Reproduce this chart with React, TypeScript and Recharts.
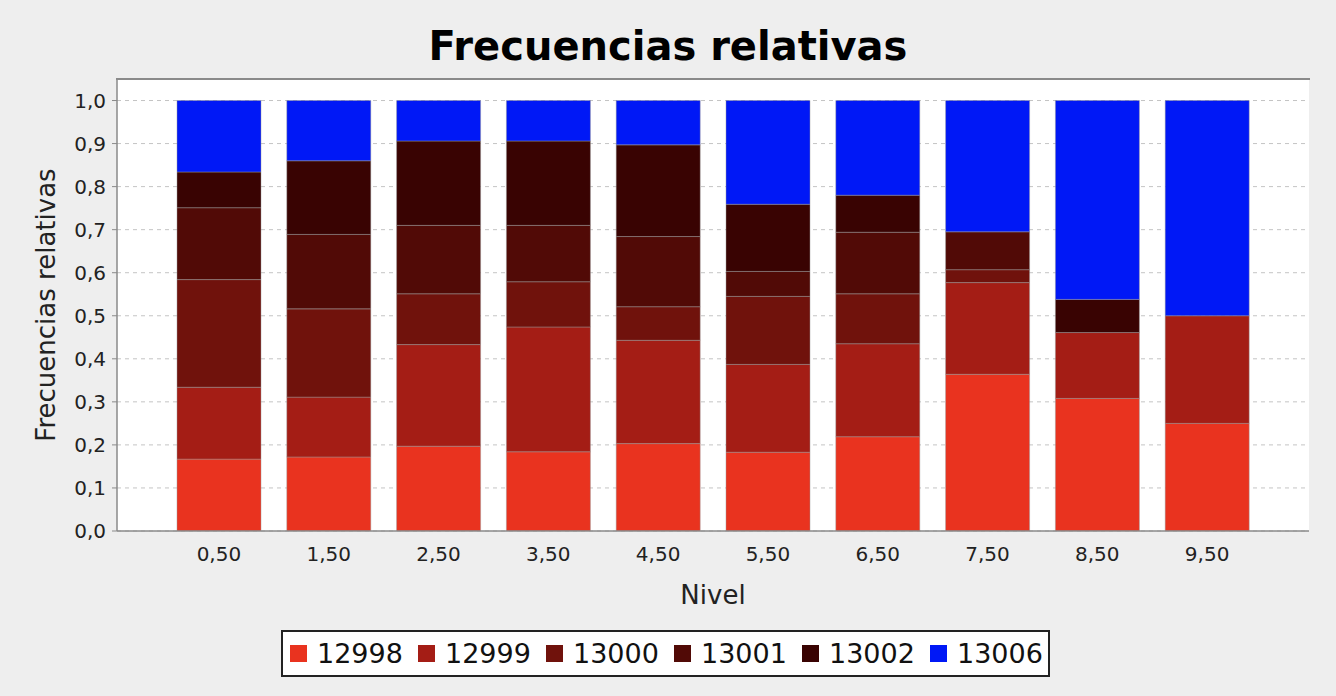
import React from 'react';
import { BarChart, Bar, XAxis, YAxis, CartesianGrid, Legend, Label } from 'recharts';

const niveles = ['0,50', '1,50', '2,50', '3,50', '4,50', '5,50', '6,50', '7,50', '8,50', '9,50'];

const s12998 = [0.167, 0.172, 0.197, 0.184, 0.203, 0.183, 0.219, 0.364, 0.308, 0.25];
const s12999 = [0.167, 0.139, 0.236, 0.29, 0.24, 0.204, 0.216, 0.213, 0.153, 0.25];
const s13000 = [0.25, 0.205, 0.118, 0.105, 0.078, 0.158, 0.116, 0.03, 0, 0];
const s13001 = [0.167, 0.173, 0.159, 0.131, 0.163, 0.058, 0.143, 0.088, 0, 0];
const s13002 = [0.083, 0.171, 0.196, 0.196, 0.213, 0.156, 0.086, 0, 0.077, 0];
const s13006 = [0.166, 0.14, 0.094, 0.094, 0.103, 0.241, 0.22, 0.305, 0.462, 0.5];

const seriesNames = ['12998', '12999', '13000', '13001', '13002', '13006'];
const seriesColors = ['#E9331F', '#A41D15', '#70120C', '#510A06', '#390302', '#0018F6'];
const seriesValues = [s12998, s12999, s13000, s13001, s13002, s13006];

const yTicks = [0, 0.1, 0.2, 0.3, 0.4, 0.5, 0.6, 0.7, 0.8, 0.9, 1.0];

const data = niveles.map((nivel, i) => {
  const row: Record<string, number | string> = { nivel };
  seriesNames.forEach((name, k) => {
    row[name] = seriesValues[k][i];
  });
  return row;
});

const FONT = '"DejaVu Sans", Verdana, sans-serif';
const AXIS_GRAY = '#8a8a8a';

const fmt = (v: number) => v.toFixed(1).replace('.', ',');

function LegendBox() {
  return (
    <div
      style={{
        boxSizing: 'border-box',
        width: 769,
        height: 47,
        border: '2px solid #222',
        background: '#fff',
        display: 'flex',
        alignItems: 'center',
        paddingLeft: 7,
        fontFamily: FONT,
        fontSize: 27,
        lineHeight: '27px',
        color: '#111',
      }}
    >
      {seriesNames.map((name, k) => (
        <div key={name} style={{ display: 'flex', alignItems: 'center', width: 128, flexShrink: 0 }}>
          <span style={{ width: 17, height: 17, background: seriesColors[k], marginRight: 10, display: 'inline-block' }} />
          <span>{name}</span>
        </div>
      ))}
    </div>
  );
}

function YLabel(props: any) {
  const vb = props.viewBox || { x: 57, y: 79, width: 60, height: 452 };
  const cx = vb.x - 2;
  const cy = vb.y + vb.height / 2;
  return (
    <text
      x={cx}
      y={cy}
      transform={`rotate(-90 ${cx} ${cy})`}
      textAnchor="middle"
      fontFamily={FONT}
      fontSize={26}
      fill="#222"
    >
      Frecuencias relativas
    </text>
  );
}

export default function App() {
  return (
    <div
      style={{
        position: 'fixed',
        left: 0,
        top: 0,
        width: 1336,
        height: 696,
        background: '#EEEEEE',
        fontFamily: FONT,
      }}
    >
      <div
        style={{
          position: 'absolute',
          top: 26,
          left: 0,
          width: 1336,
          textAlign: 'center',
          fontSize: 40,
          lineHeight: '40px',
          fontWeight: 'bold',
          color: '#000',
        }}
      >
        Frecuencias relativas
      </div>
      <BarChart width={1336} height={696} data={data} margin={{ top: 79, right: 27, bottom: 135, left: 57 }}>
        <CartesianGrid vertical={false} stroke="#c4c4c4" strokeDasharray="4 4" fill="#ffffff" />
        <XAxis
          dataKey="nivel"
          height={30}
          padding={{ left: 47, right: 47 }}
          tickLine={false}
          tickSize={6}
          tickMargin={10}
          axisLine={{ stroke: AXIS_GRAY, strokeWidth: 1.5 }}
          tick={{ fill: '#222', fontSize: 20, fontFamily: FONT }}
        >
          <Label value="Nivel" position="bottom" offset={25} fill="#222" fontSize={26} fontFamily={FONT} />
        </XAxis>
        <YAxis
          width={60}
          domain={[0, 1.05]}
          ticks={yTicks}
          tickFormatter={fmt}
          tickSize={5}
          tickMargin={6}
          tickLine={{ stroke: AXIS_GRAY }}
          axisLine={{ stroke: AXIS_GRAY, strokeWidth: 1.5 }}
          tick={{ fill: '#222', fontSize: 20, fontFamily: FONT }}
          allowDataOverflow
        >
          <Label content={YLabel} />
        </YAxis>
        <YAxis
          yAxisId="right"
          orientation="right"
          type="number"
          domain={[0, 1]}
          width={0}
          tick={false}
          tickLine={false}
          axisLine={{ stroke: AXIS_GRAY, strokeWidth: 1.5 }}
        />
        <Legend
          layout="horizontal"
          verticalAlign="middle"
          align="center"
          wrapperStyle={{ left: 281, top: 630, width: 769, height: 47 }}
          content={() => <LegendBox />}
        />
        {seriesNames.map((name, k) => (
          <Bar
            key={name}
            dataKey={name}
            name={name}
            stackId="freq"
            fill={seriesColors[k]}
            stroke="#9a9a9a"
            strokeOpacity={0.45}
            strokeWidth={1}
            barSize={84}
            isAnimationActive={false}
          />
        ))}
      </BarChart>
      {/* top edge of the plot frame */}
      <div
        style={{
          position: 'absolute',
          left: 116.25,
          top: 78.25,
          width: 1193.5,
          height: 1.5,
          background: AXIS_GRAY,
          pointerEvents: 'none',
        }}
      />
    </div>
  );
}
